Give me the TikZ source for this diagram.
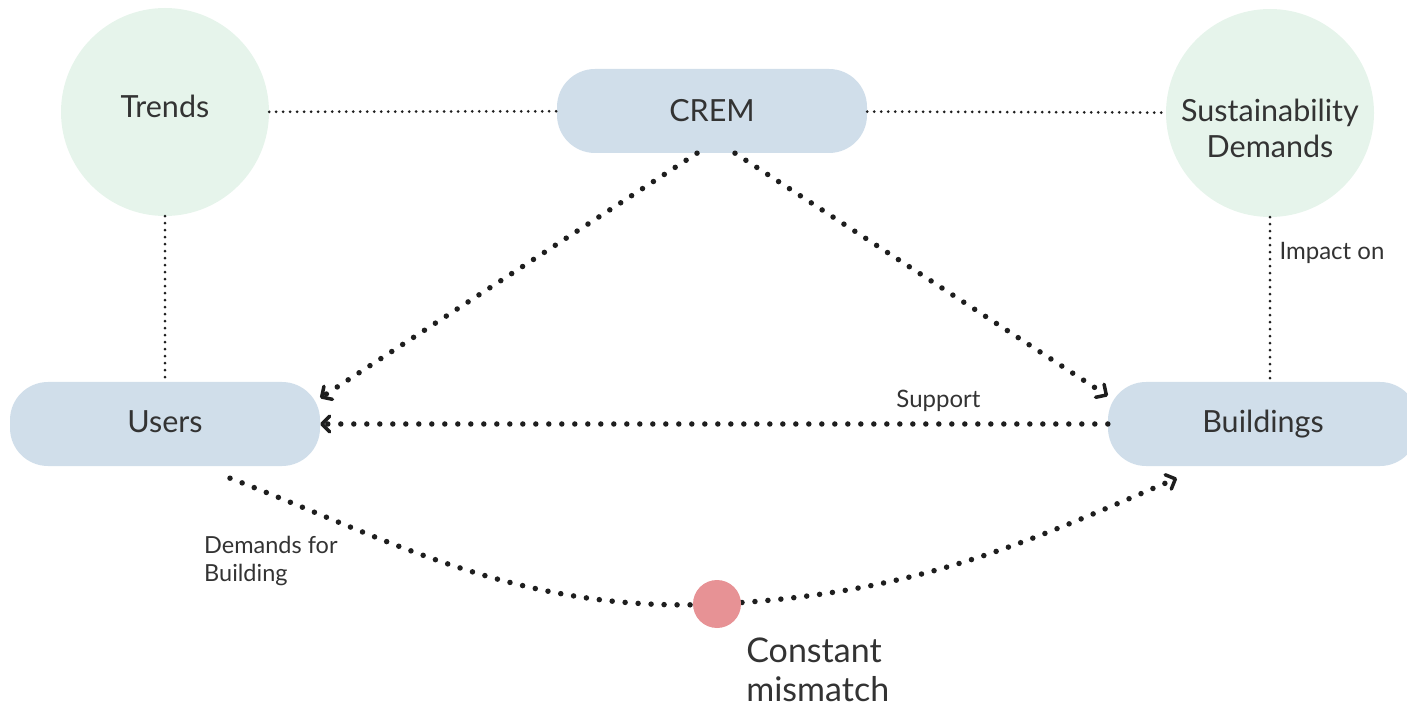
\documentclass[tikz,border=0pt]{standalone}
\usepackage{fontspec}
\setmainfont{Lato}
\usetikzlibrary{positioning,arrows.meta}
\definecolor{trendgreen}{HTML}{E6F4EB}
\definecolor{cremblue}{HTML}{D0DEEA}
\definecolor{mismatchred}{HTML}{E79295}
\definecolor{textgray}{HTML}{333333}
\definecolor{dotblack}{HTML}{1E1E1E}

\begin{document}
\begin{tikzpicture}[x=1pt, y=1pt,
  trend/.style={circle, fill=trendgreen, minimum size=208pt, inner sep=0pt, text=textgray, font=\fontsize{30.5}{36}\selectfont},
  block/.style={rounded corners=38pt, fill=cremblue, minimum width=310pt, minimum height=84pt, text=textgray, font=\fontsize{30.5}{36}\selectfont},
  thin dots/.style={dotblack, line width=3pt, line cap=round, dash pattern=on 0pt off 7pt},
  big dots/.style={dotblack, line width=5.5pt, line cap=round, dash pattern=on 0pt off 13pt},
  arrowtip/.style={-{Straight Barb[angle=90:11pt, line width=3.5pt, round]}},
  small text/.style={text=textgray, font=\fontsize{24}{30}\selectfont, inner sep=0pt}]

  \useasboundingbox (0,0) rectangle (1407,710);

  % Top row
  \node[trend, text depth=12pt] (trends) at (165,598) {Trends};
  \node[block] (crem) at (712,599) {CREM};
  \node[trend, label={[text=textgray, font=\fontsize{30.5}{36}\selectfont, align=center, yshift=-15pt]center:Sustainability\\Demands}] (sust) at (1270,597) {};

  % Bottom row
  \node[block, text depth=4pt] (users) at (165,286) {Users};
  \node[block] (buildings) at (1263,286) {Buildings};

  % Labels
  \node[small text, font=\fontsize{23.5}{28}\selectfont, align=left, anchor=north west] (demlabel) at (204,174) {Demands for\\Building};

  % Thin links
  \draw[thin dots] (trends) -- (crem);
  \draw[thin dots] (crem) -- (sust);
  \draw[thin dots] (trends) -- (users);
  \draw[thin dots] (sust.south) -- (sust.south |- buildings.north) node[pos=0.22, right=8pt, small text] {Impact on};

  % Big arrows
  \draw[big dots, arrowtip] ([xshift=-15pt]crem.south) -- ([yshift=26pt]users.east);
  \draw[big dots, arrowtip] ([xshift=23pt]crem.south) -- ([yshift=28pt]buildings.west);
  \draw[big dots, arrowtip] (buildings.west) -- (users.east) node[pos=0.215, above=10pt, small text] {Support};

  % Mismatch curve
  \coordinate (mmc) at (717,106);
  \draw[big dots, arrowtip] ([xshift=65pt, yshift=-12pt]users.south) .. controls +(150,-57) and +(-200,-10) .. (mmc) .. controls +(200,10) and +(-150,-64) .. ([xshift=-86pt, yshift=-12pt]buildings.south);
  \node[circle, fill=mismatchred, minimum size=48pt, inner sep=0pt] (mm) at (mmc) {};
  \node[small text, font=\fontsize{34}{39}\selectfont, align=left, below right=17pt and 12pt of mm.south east] (mmlabel) {Constant\\mismatch};

\end{tikzpicture}
\end{document}
